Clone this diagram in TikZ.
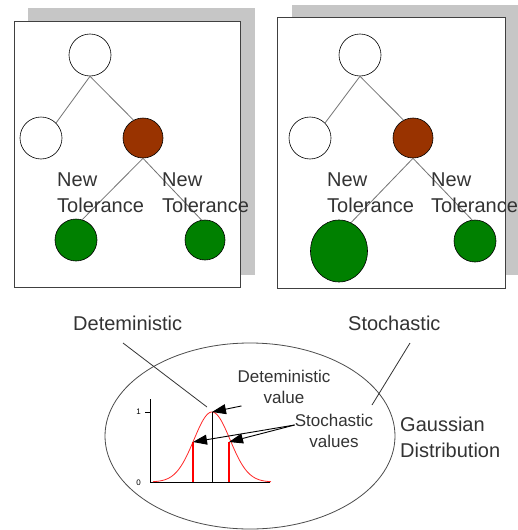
\documentclass[tikz,border=0pt]{standalone}
\usepackage{fontspec}
\setmainfont{Liberation Sans}
\usetikzlibrary{arrows.meta,shapes.geometric}
\definecolor{nutbrown}{HTML}{993300}
\definecolor{leafgreen}{HTML}{008000}
\definecolor{txtgray}{HTML}{333333}
\definecolor{shadegray}{HTML}{C6C6C6}

\begin{document}
\begin{tikzpicture}[x=1pt, y=-1pt,
  panel/.style={draw=black!75, line width=1pt, fill=white},
  shade/.style={fill=shadegray},
  vtx/.style={circle, draw=black, line width=0.6pt, minimum size=42pt, inner sep=0pt, fill=white},
  hot/.style={vtx, fill=nutbrown, minimum size=40pt},
  leaf/.style={vtx, fill=leafgreen},
  edge/.style={draw=black!55, line width=0.8pt},
  lbl/.style={font=\fontsize{20}{26}\selectfont, text=txtgray, align=left, inner sep=0pt},
  small/.style={font=\fontsize{17}{21}\selectfont, text=txtgray, align=center, inner sep=0pt},
  tick/.style={font=\fontsize{8}{8}\selectfont, inner sep=0pt},
  arr/.style={-{Triangle[length=14pt,width=10pt]}, line width=0.9pt}]
  \useasboundingbox[fill=white] (0,0) rectangle (517,530);

  % deterministic tree
  \fill[shade] (28,8) rectangle (255,275);
  \draw[panel] (14,21) rectangle (240,287);
  \node[vtx] (dtop) at (90,55) {};
  \node[vtx] (dleft) at (41,138) {};
  \node[hot] (dhot) at (143,138) {};
  \node[leaf] (dleafa) at (76,240) {};
  \node[leaf, minimum size=40pt] (dleafb) at (205,240) {};
  \draw[edge] (dtop.south) -- (dleft.north east);
  \draw[edge] (dtop.south) -- (dhot.118);
  \draw[edge] (dhot.south) -- (dleafa.73);
  \draw[edge] (dhot.south) -- (dleafb.100);
  \node[lbl, anchor=west] (dtola) at (57,193) {New\\Tolerance};
  \node[lbl, anchor=west] (dtolb) at (162,193) {New\\Tolerance};

  % stochastic tree
  \fill[shade] (292,5) rectangle (520,275);
  \draw[panel] (277,17) rectangle (505,288);
  \node[vtx] (stop) at (360,55) {};
  \node[vtx] (sleft) at (310,138) {};
  \node[hot] (shot) at (413,138) {};
  \node[leaf, ellipse, minimum width=57pt, minimum height=62pt] (sleafa) at (339,251) {};
  \node[leaf] (sleafb) at (475,241) {};
  \draw[edge] (stop.south) -- (sleft.north east);
  \draw[edge] (stop.south) -- (shot.118);
  \draw[edge] (shot.south) -- (sleafa.67);
  \draw[edge] (shot.south) -- (sleafb.98);
  \node[lbl, anchor=west] (stola) at (327,193) {New\\Tolerance};
  \node[lbl, anchor=west] (stolb) at (431,193) {New\\Tolerance};

  % gaussian view
  \node[ellipse, draw=black!70, line width=0.8pt, minimum width=290pt, minimum height=186pt] (gauss) at (250,436) {};
  \node[lbl, anchor=west] (det) at (73,323) {Deteministic};
  \node[lbl, anchor=west] (sto) at (348,323) {Stochastic};
  \node[lbl, anchor=west] (dist) at (400,437) {Gaussian\\Distribution};
  \coordinate (detend) at (123,343);
  \coordinate (stoend) at (410,343);
  \coordinate (peak) at (212,412);
  \coordinate (base) at (212,482);
  \coordinate (origin) at (150,482);
  \draw[line width=0.8pt] (origin) -- (150,399);
  \draw[line width=0.8pt] (origin) -- (270,482);
  \draw[line width=0.6pt] (145,412) -- (150,412);
  \node[tick, anchor=east] (one) at (141,412) {1};
  \node[tick, anchor=east] (zero) at (141,483) {0};
  \draw[red!85, line width=0.8pt, domain=153:271, samples=80] plot (\x, {482-70*exp(-((\x-212)^2)/648)});
  \draw[line width=1pt] (peak) -- (base);
  \draw[red, line width=1.4pt] (193,442) -- (193,482);
  \draw[red, line width=1.4pt] (229,442) -- (229,482);
  \draw[black!80, line width=0.8pt] (detend) -- (207,407);
  \draw[black!80, line width=0.8pt] (stoend) -- (372,405);
  \node[small] (dval) at (284,387) {Deteministic\\value};
  \node[small] (sval) at (334,431) {Stochastic\\values};
  \draw[arr] (dval.south west) ++(4,2) -- (peak);
  \draw[arr] (sval.west) ++(0,-6) coordinate (sfrom) -- (193,442);
  \draw[arr] (sfrom) -- (229,442);
\end{tikzpicture}
\end{document}
